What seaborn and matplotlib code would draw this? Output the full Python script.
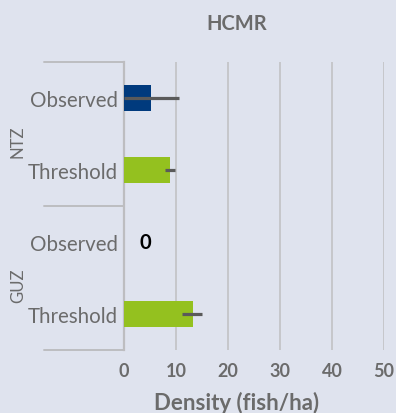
import matplotlib
matplotlib.use("Agg")
import matplotlib.pyplot as plt
import matplotlib.transforms as mtransforms
import pandas as pd
import seaborn as sns

# Data
zones = ["NTZ", "NTZ", "GUZ", "GUZ"]
kinds = ["Observed", "Threshold", "Observed", "Threshold"]
density = [5.2, 8.9, 0.0, 13.2]
ci_low = [0.0, 7.9, None, 11.2]
ci_high = [10.6, 9.9, None, 15.0]
x_ticks = [0, 10, 20, 30, 40, 50]

BG = "#dfe3ee"
TEXT = "#6b6b6b"
GRID = "#c2c2c4"
palette = {"Observed": "#003a7d", "Threshold": "#94c11f"}

df = pd.DataFrame({
    "zone": zones,
    "kind": kinds,
    "density": density,
})
df["row"] = df["zone"] + " " + df["kind"]

sns.set_theme(style="white")
plt.rcParams["font.family"] = ["Lato", "DejaVu Sans"]

fig = plt.figure(figsize=(3.96, 4.14), dpi=100, facecolor=BG)
ax = fig.add_axes([124 / 396, 1 - 351 / 414, 260 / 396, 288 / 414])
ax.set_facecolor(BG)

sns.barplot(data=df, x="density", y="row", hue="kind", palette=palette,
            orient="h", dodge=False, width=0.35, errorbar=None,
            saturation=1, linewidth=0, legend=False, ax=ax, zorder=3)

# Confidence intervals drawn over the bars
for i, (m, lo, hi) in enumerate(zip(density, ci_low, ci_high)):
    if lo is None:
        continue
    ax.errorbar(m, i, xerr=[[m - lo], [hi - m]], fmt="none",
                ecolor="#5a5a5a", elinewidth=2.3, capsize=0, zorder=4)

# Zero-value label
for i, m in enumerate(density):
    if m == 0:
        ax.annotate("0", (0, i), xytext=(15, 0), textcoords="offset points",
                    ha="center", va="center", fontsize=14.5,
                    fontweight="bold", color="black")

ax.set_xlim(0, 50)
ax.set_ylim(3.5, -0.5)
ax.set_xticks(x_ticks)
ax.set_xticklabels([str(t) for t in x_ticks])
ax.set_yticks(range(len(kinds)))
ax.set_yticklabels(kinds)
ax.set_xlabel("")
ax.set_ylabel("")

ax.tick_params(axis="y", length=0, pad=4.5, labelsize=14.8, labelcolor=TEXT)
ax.tick_params(axis="x", length=0, pad=9, labelsize=13, labelcolor=TEXT)
for lab in ax.get_xticklabels():
    lab.set_fontweight("bold")

ax.xaxis.grid(True, color=GRID, lw=1.2, zorder=0)
ax.yaxis.grid(False)
for side in ["top", "right", "bottom"]:
    ax.spines[side].set_visible(False)
ax.spines["left"].set_color("#bdbdc0")
ax.spines["left"].set_linewidth(1.6)

# Group brackets in the left margin
trans = mtransforms.blended_transform_factory(ax.transAxes, ax.transData)
for yb in [-0.5, 1.5, 3.5]:
    ax.plot([-80 / 260, 0], [yb, yb], transform=trans, color="#bdbdc0",
            lw=1.4, clip_on=False, zorder=5)
for zone, yc in [("NTZ", 0.6), ("GUZ", 2.6)]:
    ax.text(-106 / 260, yc, zone, transform=trans, rotation=90,
            ha="center", va="center", fontsize=12, color=TEXT)

fig.text(237 / 396, 1 - 24 / 414, "HCMR", ha="center", va="center",
         fontsize=14.5, fontweight="bold", color=TEXT)
fig.text(237 / 396, 1 - 403 / 414, "Density (fish/ha)", ha="center",
         va="center", fontsize=16, fontweight="bold", color=TEXT)

fig.savefig("out.png", dpi=100, facecolor=BG)
